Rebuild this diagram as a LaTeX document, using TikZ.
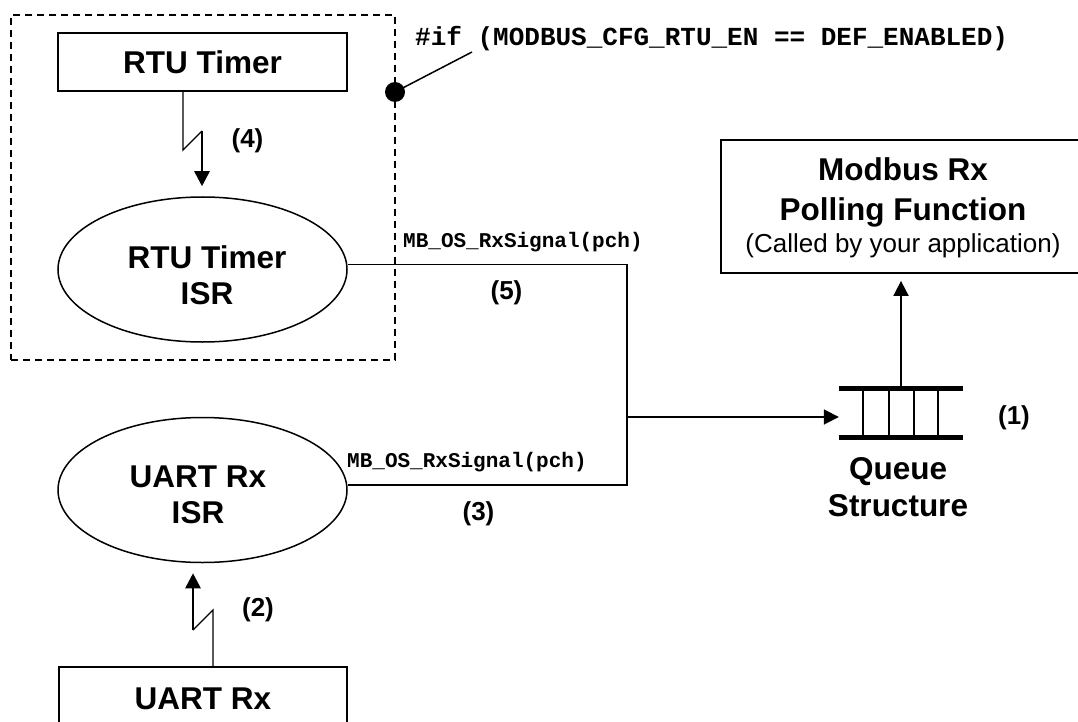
\documentclass[tikz,border=0pt]{standalone}
\usepackage{fontspec}
\setmainfont{Liberation Sans}
\newfontfamily\codefont{Liberation Mono}
\usetikzlibrary{shapes.geometric,arrows.meta}
\begin{document}
\begin{tikzpicture}[x=1pt,y=-1pt,
  bigtext/.style={font=\bfseries\fontsize{31.5}{36.5}\selectfont, align=center, inner sep=0pt},
  numtext/.style={font=\bfseries\fontsize{26}{30}\selectfont, inner sep=0pt},
  codetext/.style={font=\codefont\bfseries\fontsize{21}{24}\selectfont, inner sep=0pt, anchor=base west},
  boxst/.style={draw, line width=1.8pt, rectangle, inner sep=0pt},
  isr/.style={draw, line width=1.5pt, ellipse, inner sep=0pt, minimum width=289pt, minimum height=145pt},
  wire/.style={line width=1.8pt},
  thinwire/.style={line width=1.4pt},
  boltwire/.style={line width=2.6pt, -{Triangle[width=15pt,length=15pt]}, shorten >=10pt},
  arrowwire/.style={line width=1.8pt, -{Triangle[width=15pt,length=15pt]}},
]
\useasboundingbox (0,0) rectangle (1078,722);

% conditional-compilation frame
\node[draw, line width=1.5pt, dash pattern=on 7pt off 5pt, minimum width=384pt, minimum height=345pt, inner sep=0pt] (cfg) at (203,187.5) {};
\node[circle, fill, inner sep=0pt, minimum size=20pt] (dot) at (395,92) {};
\coordinate (iftip) at (472,52);
\draw[line width=1.5pt] (dot.center) -- (iftip);
\node[font=\codefont\bfseries\fontsize{26}{30}\selectfont, inner sep=0pt, anchor=base west] (iftext) at (415,46) {\#if (MODBUS\_CFG\_RTU\_EN == DEF\_ENABLED)};

% RTU timer
\node[boxst, bigtext, minimum width=289pt, minimum height=58pt] (rtutimer) at (202.5,62) {RTU Timer};
\node[isr] (rtuisr) at (202.5,269.5) {};
\node[bigtext] (rtuisrtxt) at (207,275) {RTU Timer\\ISR};
\coordinate (z4a) at (183,150);
\coordinate (z4b) at (202,131);
\draw[thinwire] (rtutimer.south -| z4a) -- (z4a) -- (z4b);
\draw[boltwire] (z4b) -- (z4b |- rtuisr.north);
\node[numtext] (n4) at (247.5,141) {(4)};

% UART
\node[isr] (uartisr) at (202.5,490) {};
\node[bigtext] (uartisrtxt) at (198,495) {UART Rx\\ISR};
\node[boxst, bigtext, minimum width=288pt, minimum height=63pt] (uartrx) at (203,698.5) {UART Rx};
\coordinate (z2a) at (213,610);
\coordinate (z2b) at (193,630);
\draw[thinwire] (uartrx.north -| z2a) -- (z2a) -- (z2b);
\draw[boltwire] (z2b) -- (z2b |- uartisr.south);
\node[numtext] (n2) at (258,610) {(2)};

% signal wires
\coordinate (j) at (627,417);
\draw[wire] ([yshift=5pt]rtuisr.east) -| (j);
\draw[wire] ([yshift=5pt]uartisr.east) -| (j);
\node[codetext] (sig5) at (403,247) {MB\_OS\_RxSignal(pch)};
\node[codetext] (sig3) at (347,467) {MB\_OS\_RxSignal(pch)};
\node[numtext] (n5) at (506.5,293) {(5)};
\node[numtext] (n3) at (478.5,513.5) {(3)};

% queue
\node[minimum width=124pt, minimum height=48pt, inner sep=0pt] (queue) at (901,413) {};
\draw[line width=5pt] (queue.north west) -- (queue.north east);
\draw[line width=5pt] (queue.south west) -- (queue.south east);
\foreach \dx in {24,50,75,99}
  \draw[line width=1.5pt] ([xshift=\dx pt]queue.north west) -- ([xshift=\dx pt]queue.south west);
\draw[arrowwire] (j) -- (j -| queue.west);
\node[bigtext, font=\bfseries\fontsize{31.5}{37.5}\selectfont] (queuetxt) at (898,487) {Queue\\Structure};
\node[numtext] (n1) at (1014,418) {(1)};

% Modbus polling function
\node[boxst, minimum width=364pt, minimum height=133pt] (modbus) at (903,206.5) {};
\node[inner sep=0pt, anchor=base, font=\bfseries\fontsize{31.5}{36}\selectfont] (mbl1) at (903,181) {Modbus Rx};
\node[inner sep=0pt, anchor=base, font=\bfseries\fontsize{31.5}{36}\selectfont] (mbl2) at (903,220) {Polling Function};
\node[inner sep=0pt, anchor=base, font=\fontsize{26}{30}\selectfont] (mbl3) at (903,252) {(Called by your application)};
\draw[arrowwire, shorten >=7pt] (queue.north) -- (queue.north |- modbus.south);
\end{tikzpicture}
\end{document}
